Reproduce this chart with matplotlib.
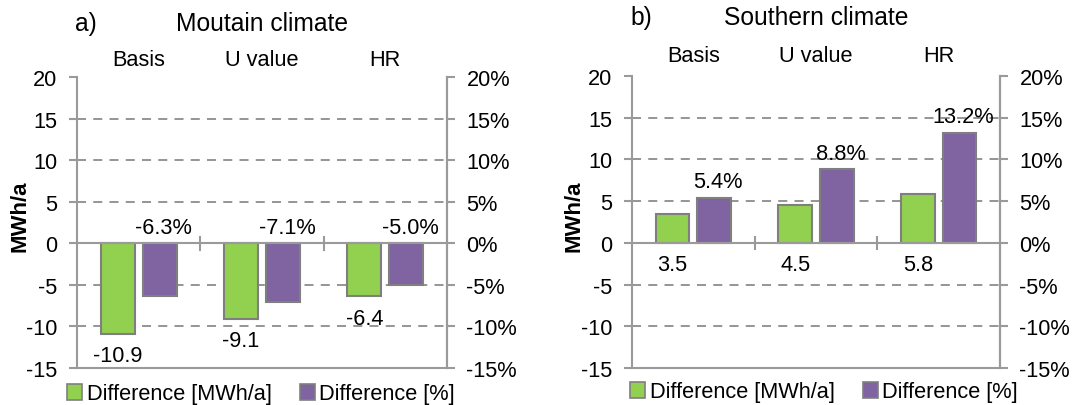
import matplotlib
matplotlib.use("Agg")
import matplotlib.pyplot as plt
from matplotlib.patches import Patch
from matplotlib.ticker import FuncFormatter

plt.rcParams['font.family'] = ['Liberation Sans', 'DejaVu Sans']
plt.rcParams['axes.unicode_minus'] = False

categories = ["Basis", "U value", "HR"]
panel_letters = ["a)", "b)"]
panel_titles = ["Moutain climate", "Southern climate"]
diff_mwh = [[-10.9, -9.1, -6.4], [3.5, 4.5, 5.8]]
diff_pct = [[-6.3, -7.1, -5.0], [5.4, 8.8, 13.2]]
legend_labels = ["Difference [MWh/a]", "Difference [%]"]
yticks = [-15, -10, -5, 0, 5, 10, 15, 20]

GREEN = "#92D050"
PURPLE = "#8064A2"
EDGE = "#7F7F7F"
AXIS = "#9A9A9A"
FS = 15.7
TITLE_FS = 17.7

fig = plt.figure(figsize=(10.76, 4.06), dpi=100)
W, H = 1076, 406
panels = [(77, 78, 447, 369), (632, 77, 1000, 369)]
title_y = [24, 18]
cat_y = [60, 57]
ylabel_xy = [(20, 216), (574, 216)]
legend_pos = [(67, 395), (630, 393)]

for k, (x0, y0, x1, y1) in enumerate(panels):
    ax = fig.add_axes([x0 / W, 1 - y1 / H, (x1 - x0) / W, (y1 - y0) / H])
    ax.set_xlim(-0.5, 2.5)
    ax.set_ylim(-15, 20)
    xs = list(range(len(categories)))
    bw = 0.275
    off = 0.17
    ax.bar([x - off for x in xs], diff_mwh[k], bw, color=GREEN,
           edgecolor=EDGE, linewidth=1.5, zorder=3)
    ax.bar([x + off for x in xs], diff_pct[k], bw, color=PURPLE,
           edgecolor=EDGE, linewidth=1.5, zorder=3)

    # value labels
    for x, v in zip(xs, diff_mwh[k]):
        ax.annotate(f"{v:.1f}", (x - off, min(v, 0)), xytext=(0, -8),
                    textcoords="offset points", ha="center", va="top",
                    fontsize=FS)
    for x, v in zip(xs, diff_pct[k]):
        ax.annotate(f"{v:.1f}%", (x + off, max(v, 0)), xytext=(3, 4),
                    textcoords="offset points", ha="center", va="bottom",
                    fontsize=FS)

    # gridlines
    for t in yticks:
        if t in (0, 20, -15):
            continue
        ax.axhline(t, color="#8C8C8C", lw=1.3, ls=(0, (5, 4)), zorder=1)
    ax.axhline(0, color=AXIS, lw=1.5, zorder=4)
    # category separators on the zero line
    for xb in [0.5, 1.5]:
        ax.plot([xb, xb], [-0.75, 0.75], color=AXIS, lw=1.5, zorder=4,
                clip_on=False)

    ax.spines["top"].set_visible(False)
    for s in ["left", "right", "bottom"]:
        ax.spines[s].set_color(AXIS)
        ax.spines[s].set_linewidth(1.5)
    ax.set_xticks([])
    ax.set_yticks(yticks)
    ax.tick_params(axis="y", colors=AXIS, length=5.5, width=1.5,
                   labelcolor="black", labelsize=FS, pad=8.5)

    ax2 = ax.twinx()
    ax2.set_ylim(ax.get_ylim())
    ax2.set_yticks(yticks)
    ax2.yaxis.set_major_formatter(FuncFormatter(lambda v, p: f"{v:.0f}%"))
    ax2.tick_params(axis="y", colors=AXIS, length=5.5, width=1.5,
                    labelcolor="black", labelsize=FS, pad=8.5)
    for s in ["top", "left", "bottom"]:
        ax2.spines[s].set_visible(False)
    ax2.spines["right"].set_color(AXIS)
    ax2.spines["right"].set_linewidth(1.5)

    # category labels above the plot
    for x, c in zip(xs, categories):
        fig.text((x0 + (x1 - x0) * (x + 0.5) / 3) / W, 1 - cat_y[k] / H, c,
                 ha="center", va="center", fontsize=FS)

    fig.text((x0 - 2) / W, 1 - title_y[k] / H, panel_letters[k], ha="left",
             va="center", fontsize=TITLE_FS)
    fig.text((x0 + x1) / 2 / W, 1 - title_y[k] / H, panel_titles[k],
             ha="center", va="center", fontsize=TITLE_FS)
    fig.text(ylabel_xy[k][0] / W, 1 - ylabel_xy[k][1] / H, "MWh/a",
             rotation=90, ha="center", va="center", fontsize=16,
             fontweight="bold")

    handles = [Patch(facecolor=GREEN, edgecolor=EDGE, linewidth=1.2),
               Patch(facecolor=PURPLE, edgecolor=EDGE, linewidth=1.2)]
    fig.legend(handles, legend_labels, loc="center left",
               bbox_to_anchor=(legend_pos[k][0] / W, 1 - legend_pos[k][1] / H),
               ncol=2, frameon=False, fontsize=FS, handlelength=0.7,
               handleheight=0.7, handletextpad=0.2, columnspacing=1.3,
               borderpad=0, borderaxespad=0)

fig.savefig("out.png", dpi=100, facecolor="white")
